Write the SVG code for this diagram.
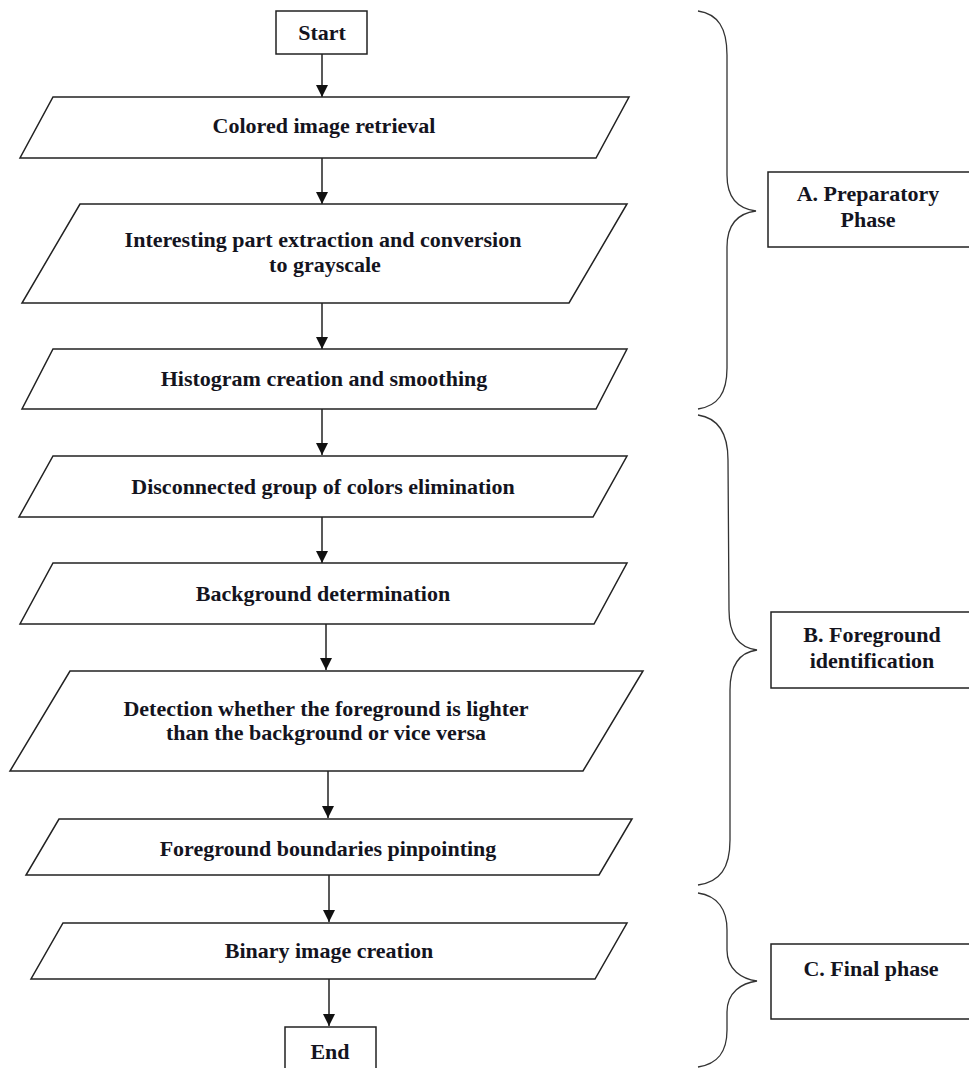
<svg xmlns="http://www.w3.org/2000/svg" width="969" height="1068" viewBox="0 0 969 1068">
<defs>
<style>
.shape{fill:#fff;stroke:#222;stroke-width:1.5}
.brace{fill:none;stroke:#333;stroke-width:1.3}
.conn{stroke:#222;stroke-width:1.5;fill:none}
text{font-family:"Liberation Serif","Times New Roman",serif;font-weight:bold;font-size:22px;fill:#14141e;text-anchor:middle}
</style>
<marker id="ah" markerUnits="userSpaceOnUse" markerWidth="14" markerHeight="14" viewBox="0 0 14 14" refX="13" refY="7" orient="auto">
<path d="M1,1 L13,7 L1,13 Z" fill="#111"/>
</marker>
</defs>
<rect width="969" height="1068" fill="#fff"/>
<g id="connectors">
<line class="conn" x1="322" y1="54" x2="322" y2="97" marker-end="url(#ah)"/>
<line class="conn" x1="322" y1="158" x2="322" y2="204" marker-end="url(#ah)"/>
<line class="conn" x1="322" y1="303" x2="322" y2="349" marker-end="url(#ah)"/>
<line class="conn" x1="322" y1="409" x2="322" y2="455" marker-end="url(#ah)"/>
<line class="conn" x1="322" y1="517" x2="322" y2="563" marker-end="url(#ah)"/>
<line class="conn" x1="326" y1="624" x2="326" y2="670" marker-end="url(#ah)"/>
<line class="conn" x1="328" y1="771" x2="328" y2="818" marker-end="url(#ah)"/>
<line class="conn" x1="329" y1="875" x2="329" y2="922" marker-end="url(#ah)"/>
<line class="conn" x1="329" y1="979" x2="329" y2="1026" marker-end="url(#ah)"/>
</g>
<g id="start">
<rect class="shape" x="276" y="11" width="91" height="43"/>
<text x="322" y="40">Start</text>
</g>
<g id="step1">
<polygon class="shape" points="53,97 629,97 596,158 20,158"/>
<text x="324" y="133">Colored image retrieval</text>
</g>
<g id="step2">
<polygon class="shape" points="80,204 627,204 569,303 22,303"/>
<text x="323" y="247">Interesting part extraction and conversion</text>
<text x="325" y="272">to grayscale</text>
</g>
<g id="step3">
<polygon class="shape" points="53,349 627,349 596,409 22,409"/>
<text x="324" y="386">Histogram creation and smoothing</text>
</g>
<g id="step4">
<polygon class="shape" points="53,456 627,456 593,517 19,517"/>
<text x="323" y="494">Disconnected group of colors elimination</text>
</g>
<g id="step5">
<polygon class="shape" points="53,563 627,563 594,624 20,624"/>
<text x="323" y="601">Background determination</text>
</g>
<g id="step6">
<polygon class="shape" points="70,671 643,671 583,771 10,771"/>
<text x="326" y="716">Detection whether the foreground is lighter</text>
<text x="326" y="740">than the background or vice versa</text>
</g>
<g id="step7">
<polygon class="shape" points="59,819 632,819 599,875 26,875"/>
<text x="328" y="856">Foreground boundaries pinpointing</text>
</g>
<g id="step8">
<polygon class="shape" points="63,923 627,923 595,979 31,979"/>
<text x="329" y="958">Binary image creation</text>
</g>
<g id="end">
<rect class="shape" x="285" y="1027" width="91" height="50"/>
<text x="330" y="1059">End</text>
</g>
<g id="braceA">
<path class="brace" d="M698,11 C718,14 727,28 727,55 L727,175 C727,200 740,209 756,211 C740,213 727,222 727,247 L727,368 C727,393 718,406 698,409"/>
</g>
<g id="braceB">
<path class="brace" d="M698,415 C718,418 728,432 728,460 L729,610 C729,638 742,648 757,650 C742,652 730,662 730,690 L730,840 C730,868 720,882 698,885"/>
</g>
<g id="braceC">
<path class="brace" d="M698,893 C718,896 727,910 727,930 L727,950 C727,970 742,979 757,981 C742,983 727,992 727,1012 L727,1030 C727,1052 718,1064 698,1067"/>
</g>
<g id="labelA">
<rect class="shape" x="768" y="172" width="205" height="75"/>
<text x="868" y="201">A. Preparatory</text>
<text x="868" y="227">Phase</text>
</g>
<g id="labelB">
<rect class="shape" x="771" y="612" width="205" height="76"/>
<text x="872" y="642">B. Foreground</text>
<text x="872" y="668">identification</text>
</g>
<g id="labelC">
<rect class="shape" x="771" y="944" width="205" height="75"/>
<text x="871" y="976">C. Final phase</text>
</g>
</svg>
